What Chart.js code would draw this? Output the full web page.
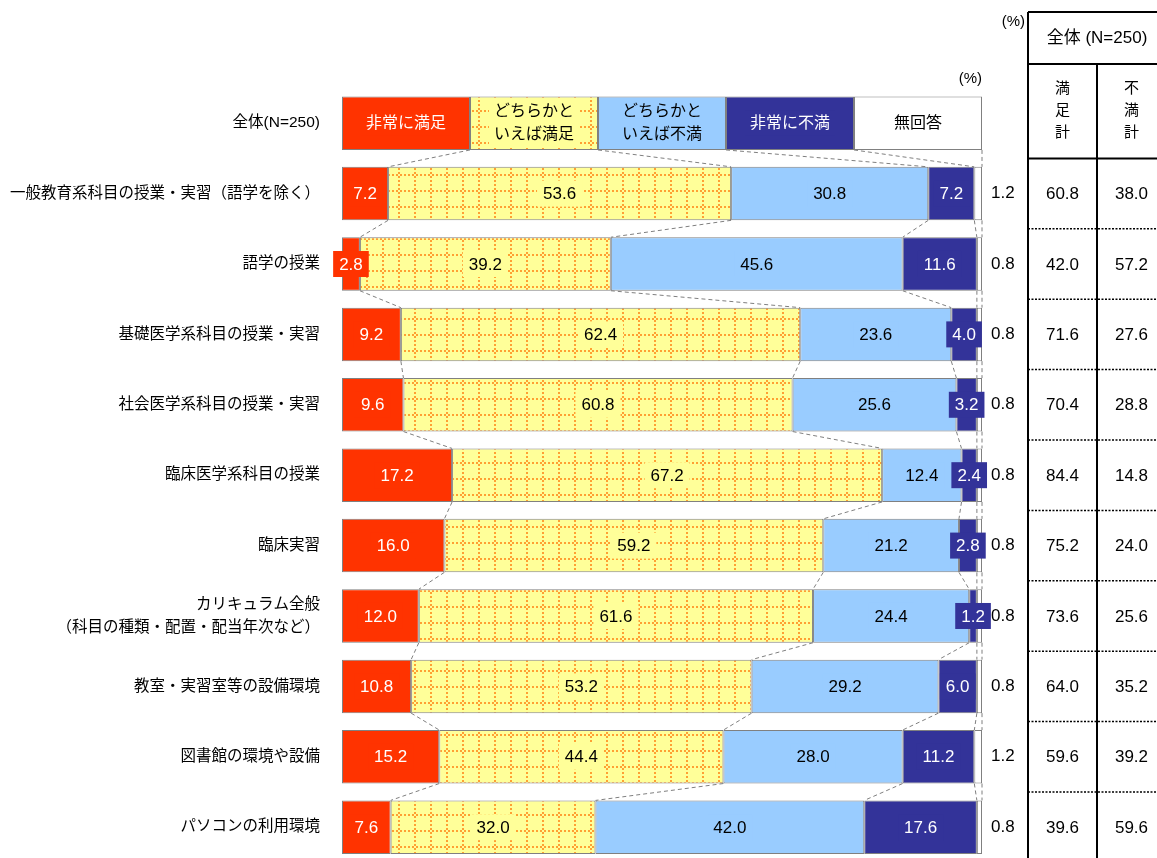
<!DOCTYPE html>
<html lang="ja">
<head>
<meta charset="UTF-8">
<title>授業・設備の満足度</title>
<script src="https://cdn.jsdelivr.net/npm/chart.js"></script>
<style>
    html, body { margin: 0; padding: 0; background: #fff; overflow: hidden; }
    #wrap { width: 1157px; height: 896px; }
</style>
</head>
<body>
<div id="wrap"><canvas id="satisfaction-chart" width="1157" height="896"></canvas></div>
<script>
// データ
const overallLabel = "全体(N=250)";
const categories = [
    "一般教育系科目の授業・実習（語学を除く）",
    "語学の授業",
    "基礎医学系科目の授業・実習",
    "社会医学系科目の授業・実習",
    "臨床医学系科目の授業",
    "臨床実習",
    ["カリキュラム全般", "（科目の種類・配置・配当年次など）"],
    "教室・実習室等の設備環境",
    "図書館の環境や設備",
    "パソコンの利用環境",
];
const seriesNames = ["非常に満足", ["どちらかと", "いえば満足"], ["どちらかと", "いえば不満"], "非常に不満", "無回答"];
const legendShares = [20, 20, 20, 20, 20];
const verySatisfied = [7.2, 2.8, 9.2, 9.6, 17.2, 16.0, 12.0, 10.8, 15.2, 7.6];
const ratherSatisfied = [53.6, 39.2, 62.4, 60.8, 67.2, 59.2, 61.6, 53.2, 44.4, 32.0];
const ratherDissatisfied = [30.8, 45.6, 23.6, 25.6, 12.4, 21.2, 24.4, 29.2, 28.0, 42.0];
const veryDissatisfied = [7.2, 11.6, 4.0, 3.2, 2.4, 2.8, 1.2, 6.0, 11.2, 17.6];
const noAnswer = [1.2, 0.8, 0.8, 0.8, 0.8, 0.8, 0.8, 0.8, 1.2, 0.8];
const satisfiedTotal = [60.8, 42.0, 71.6, 70.4, 84.4, 75.2, 73.6, 64.0, 59.6, 39.6];
const dissatisfiedTotal = [38.0, 57.2, 27.6, 28.8, 14.8, 24.0, 25.6, 35.2, 39.2, 59.6];

const FONT = "'Liberation Sans', 'Noto Sans CJK JP', sans-serif";
const solidColors = ["#FF3300", "#FFFF99", "#99CCFF", "#333399", "#FFFFFF"];
const textColors = ["#FFFFFF", "#000000", "#000000", "#FFFFFF", "#000000"];

// 黄色の点線格子パターン
function makeGridPattern(ctx) {
    const c = document.createElement("canvas");
    c.width = 16;
    c.height = 16;
    const g = c.getContext("2d");
    g.fillStyle = "#FFFF99";
    g.fillRect(0, 0, 16, 16);
    g.fillStyle = "#FFA033";
    for (let i = 0; i < 16; i += 4) {
        g.fillRect(i, 14, 2, 2);
        g.fillRect(14, i, 2, 2);
    }
    return ctx.createPattern(c, "repeat");
}

// 点線の接続線・数値ラベル
const overlayPlugin = {
    id: "overlay",
    afterDatasetsDraw(chart) {
        const ctx = chart.ctx;
        const xs = chart.scales.x;
        const metas = chart.data.datasets.map((ds, i) => chart.getDatasetMeta(i));
        const rows = chart.data.labels.length;

        const cum = [];
        for (let r = 0; r < rows; r++) {
            let s = 0;
            cum.push(chart.data.datasets.map((ds) => (s += ds.data[r])));
        }

        ctx.save();
        ctx.strokeStyle = "#7f7f7f";
        ctx.lineWidth = 1;
        ctx.setLineDash([4, 3]);
        for (let r = 0; r < rows - 1; r++) {
            const a = metas[0].data[r];
            const b = metas[0].data[r + 1];
            const y1 = a.y + a.height / 2;
            const y2 = b.y - b.height / 2;
            cum[r].forEach((v, k) => {
                ctx.beginPath();
                ctx.moveTo(xs.getPixelForValue(v), y1);
                ctx.lineTo(xs.getPixelForValue(cum[r + 1][k]), y2);
                ctx.stroke();
            });
        }
        ctx.restore();

        ctx.save();
        ctx.textBaseline = "middle";
        metas.forEach((meta, d) => {
            meta.data.forEach((el, r) => {
                const cx = (el.x + el.base) / 2;
                const v = chart.data.datasets[d].data[r];
                if (r === 0) {
                    // 凡例行
                    const name = seriesNames[d];
                    const lines = Array.isArray(name) ? name : [name];
                    ctx.font = "16px " + FONT;
                    const w = Math.max(...lines.map((t) => ctx.measureText(t).width));
                    const lh = 23;
                    ctx.fillStyle = solidColors[d];
                    ctx.fillRect(cx - w / 2 - 5, el.y - (lines.length * lh) / 2 - 1, w + 10, lines.length * lh + 2);
                    ctx.fillStyle = textColors[d];
                    ctx.textAlign = "center";
                    lines.forEach((t, i) => {
                        ctx.fillText(t, cx, el.y + (i - (lines.length - 1) / 2) * lh);
                    });
                    return;
                }
                ctx.font = "17px " + FONT;
                const txt = v.toFixed(1);
                if (d === 4) {
                    ctx.fillStyle = "#000";
                    ctx.textAlign = "left";
                    ctx.fillText(txt, xs.right + 9, el.y);
                    return;
                }
                const tw = ctx.measureText(txt).width;
                ctx.fillStyle = solidColors[d];
                ctx.fillRect(cx - tw / 2 - 6, el.y - 13, tw + 12, 26);
                ctx.fillStyle = textColors[d];
                ctx.textAlign = "center";
                ctx.fillText(txt, cx, el.y + 1);
            });
        });
        ctx.restore();
    },
    afterDraw(chart) {
        // 右側の表
        const ctx = chart.ctx;
        const meta = chart.getDatasetMeta(0);
        const W = chart.width;
        const H = chart.height;
        const left = 1028;
        const mid = 1097;
        const right = 1166;
        ctx.save();
        ctx.strokeStyle = "#000";
        ctx.fillStyle = "#000";
        ctx.lineWidth = 2;

        ctx.beginPath();
        ctx.moveTo(left, 12); ctx.lineTo(W, 12);
        ctx.moveTo(left, 64); ctx.lineTo(W, 64);
        ctx.moveTo(left, 12); ctx.lineTo(left, H);
        ctx.moveTo(mid, 64); ctx.lineTo(mid, H);
        ctx.stroke();

        const bounds = [];
        for (let r = 0; r < meta.data.length - 1; r++) {
            bounds.push((meta.data[r].y + meta.data[r + 1].y) / 2);
        }
        bounds.forEach((y, i) => {
            ctx.beginPath();
            ctx.setLineDash(i === 0 ? [] : [2, 1.5]);
            ctx.lineWidth = i === 0 ? 2 : 1.5;
            ctx.moveTo(left, y);
            ctx.lineTo(W, y);
            ctx.stroke();
        });
        ctx.setLineDash([]);

        ctx.textAlign = "center";
        ctx.textBaseline = "middle";
        ctx.font = "17px " + FONT;
        ctx.fillText("全体 (N=250)", (left + right) / 2, 38);

        ctx.font = "15px " + FONT;
        const subY = (64 + bounds[0]) / 2;
        ["満", "足", "計"].forEach((c, i) => ctx.fillText(c, (left + mid) / 2, subY + (i - 1) * 22));
        ["不", "満", "計"].forEach((c, i) => ctx.fillText(c, (mid + right) / 2, subY + (i - 1) * 22));

        ctx.font = "17px " + FONT;
        satisfiedTotal.forEach((v, i) => {
            const y = meta.data[i + 1].y + 1;
            ctx.fillText(v.toFixed(1), (left + mid) / 2, y);
            ctx.fillText(dissatisfiedTotal[i].toFixed(1), (mid + right) / 2, y);
        });

        ctx.font = "15px " + FONT;
        ctx.textAlign = "right";
        ctx.fillText("(%)", chart.chartArea.right, 79);
        ctx.fillText("(%)", 1025, 22);
        ctx.restore();
    },
};

document.addEventListener("DOMContentLoaded", function () {
    const ctx = document.getElementById("satisfaction-chart").getContext("2d");
    const values = [verySatisfied, ratherSatisfied, ratherDissatisfied, veryDissatisfied, noAnswer];
    const fills = [solidColors[0], makeGridPattern(ctx), solidColors[2], solidColors[3], solidColors[4]];

    new Chart(ctx, {
        type: "bar",
        data: {
            labels: [overallLabel, ...categories],
            datasets: values.map((arr, i) => ({
                label: Array.isArray(seriesNames[i]) ? seriesNames[i].join("") : seriesNames[i],
                data: [legendShares[i], ...arr],
                backgroundColor: fills[i],
                borderColor: "#808080",
                borderWidth: 1,
                borderSkipped: false,
                barPercentage: 0.76,
                categoryPercentage: 1,
            })),
        },
        options: {
            indexAxis: "y",
            responsive: false,
            animation: false,
            layout: { padding: { top: 88, bottom: 0, left: 0, right: 175 } },
            plugins: { legend: { display: false }, tooltip: { enabled: false } },
            scales: {
                x: { stacked: true, min: 0, max: 100, display: false },
                y: {
                    stacked: true,
                    grid: { display: false, drawTicks: false },
                    border: { display: false },
                    ticks: {
                        color: "#000",
                        autoSkip: false,
                        padding: 22,
                        font: { family: FONT, size: 15.5, lineHeight: 1.5 },
                    },
                    afterFit(scale) {
                        scale.width = 342;
                    },
                },
            },
        },
        plugins: [overlayPlugin],
    });
});
</script>
</body>
</html>
